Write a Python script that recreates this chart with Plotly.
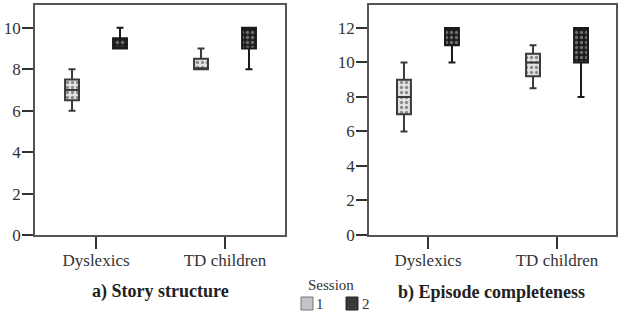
import plotly.graph_objects as go

groups = ["Dyslexics", "TD children"]
sessions = ["1", "2"]

# a) Story structure: values per [session][group]
a_low = [[6, 8], [9, 8]]
a_q1 = [[6.5, 8], [9, 9]]
a_med = [[7, 8], [9, 10]]
a_q3 = [[7.5, 8.5], [9.5, 10]]
a_high = [[8, 9], [10, 10]]

# b) Episode completeness
b_low = [[6, 8.5], [10, 8]]
b_q1 = [[7, 9.2], [11, 10]]
b_med = [[8, 10], [12, 12]]
b_q3 = [[9, 10.5], [12, 12]]
b_high = [[10, 11], [12, 12]]

titles = ["a) Story structure", "b) Episode completeness"]

pat_bg = ["#e4e4e4", "#1e1e1e"]
pat_fg = ["#8c8c8c", "#6e6e6e"]
swatch = ["#c4c4c4", "#3a3a3a"]
line_col = ["#3a3a3a", "#1a1a1a"]
FONT = "Liberation Serif"

fig = go.Figure()
panels = [(a_low, a_q1, a_med, a_q3, a_high), (b_low, b_q1, b_med, b_q3, b_high)]
# patterned fills (bars spanning q1..q3) drawn under the box outlines
for p, (lo, q1, md, q3, hi) in enumerate(panels):
    xa, ya = ("x", "y") if p == 0 else ("x2", "y2")
    for s in range(2):
        fig.add_trace(go.Bar(
            x=groups, y=[b - a for a, b in zip(q1[s], q3[s])], base=q1[s],
            marker=dict(color=pat_bg[s], line=dict(width=0),
                        pattern=dict(shape=".", fgcolor=pat_fg[s], bgcolor=pat_bg[s],
                                     size=5, solidity=0.35, fillmode="replace")),
            offsetgroup=str(s), xaxis=xa, yaxis=ya, showlegend=False, hoverinfo="skip",
        ))
for p, (lo, q1, md, q3, hi) in enumerate(panels):
    xa, ya = ("x", "y") if p == 0 else ("x2", "y2")
    for s in range(2):
        fig.add_trace(go.Box(
            x=groups, lowerfence=lo[s], q1=q1[s], median=md[s], q3=q3[s], upperfence=hi[s],
            name=sessions[s], fillcolor="rgba(0,0,0,0)",
            line=dict(color=line_col[s], width=2),
            whiskerwidth=0.5, xaxis=xa, yaxis=ya, offsetgroup=str(s),
            showlegend=False, boxpoints=False,
        ))

W, H = 619, 322
T, B = 5, 235
PH = B - T


def ypap(py):
    return (B - py) / PH


axcommon = dict(showline=True, linecolor="#555555", linewidth=1.5, mirror=True,
                ticks="outside", tickcolor="#333333", tickwidth=1.5, showgrid=False,
                zeroline=False, automargin=False,
                tickfont=dict(family=FONT, size=17, color="#333333"))

annotations = [
    dict(text=f"<b>{titles[0]}</b>", x=160 / W, y=ypap(291)),
    dict(text=f"<b>{titles[1]}</b>", x=491 / W, y=ypap(292)),
]
for a in annotations:
    a.update(xref="paper", yref="paper", xanchor="center", yanchor="middle",
             showarrow=False, font=dict(family=FONT, size=18, color="#222222"))
annotations += [
    dict(text="Session", x=331 / W, y=ypap(285), xref="paper", yref="paper",
         xanchor="center", yanchor="middle", showarrow=False,
         font=dict(family=FONT, size=15, color="#333333")),
    dict(text=sessions[0], x=314 / W, y=ypap(304), xref="paper", yref="paper",
         xanchor="left", yanchor="middle", showarrow=False,
         font=dict(family=FONT, size=15, color="#333333")),
    dict(text=sessions[1], x=360 / W, y=ypap(304), xref="paper", yref="paper",
         xanchor="left", yanchor="middle", showarrow=False,
         font=dict(family=FONT, size=15, color="#333333")),
]
shapes = [
    dict(type="rect", xref="paper", yref="paper", x0=301 / W, x1=313 / W,
         y0=ypap(310), y1=ypap(297), fillcolor=swatch[0], line=dict(color="#777777", width=1)),
    dict(type="rect", xref="paper", yref="paper", x0=346 / W, x1=358 / W,
         y0=ypap(310), y1=ypap(297), fillcolor=swatch[1], line=dict(color="#222222", width=1)),
]

fig.update_layout(
    width=W, height=H, margin=dict(l=0, r=0, t=T, b=H - B),
    plot_bgcolor="white", paper_bgcolor="white", showlegend=False,
    boxmode="group", boxgap=0.256, boxgroupgap=0.71,
    barmode="group", bargap=0.256, bargroupgap=0.71,
    xaxis=dict(domain=[35 / W, 285 / W], type="category", range=[-0.473, 1.465],
               ticklen=12, ticklabelstandoff=-3, anchor="y", **axcommon),
    xaxis2=dict(domain=[369 / W, 616 / W], type="category", range=[-0.457, 1.457],
                ticklen=12, ticklabelstandoff=-3, anchor="y2", **axcommon),
    yaxis=dict(range=[0, 11.1], dtick=2, ticklen=11, ticklabelstandoff=-2, anchor="x",
               **axcommon),
    yaxis2=dict(range=[0, 13.33], dtick=2, ticklen=11, ticklabelstandoff=-2, anchor="x2",
                **axcommon),
    annotations=annotations, shapes=shapes,
)
fig.write_html("out.html", config={"displayModeBar": False},
               post_script="document.body.style.margin='0';")
